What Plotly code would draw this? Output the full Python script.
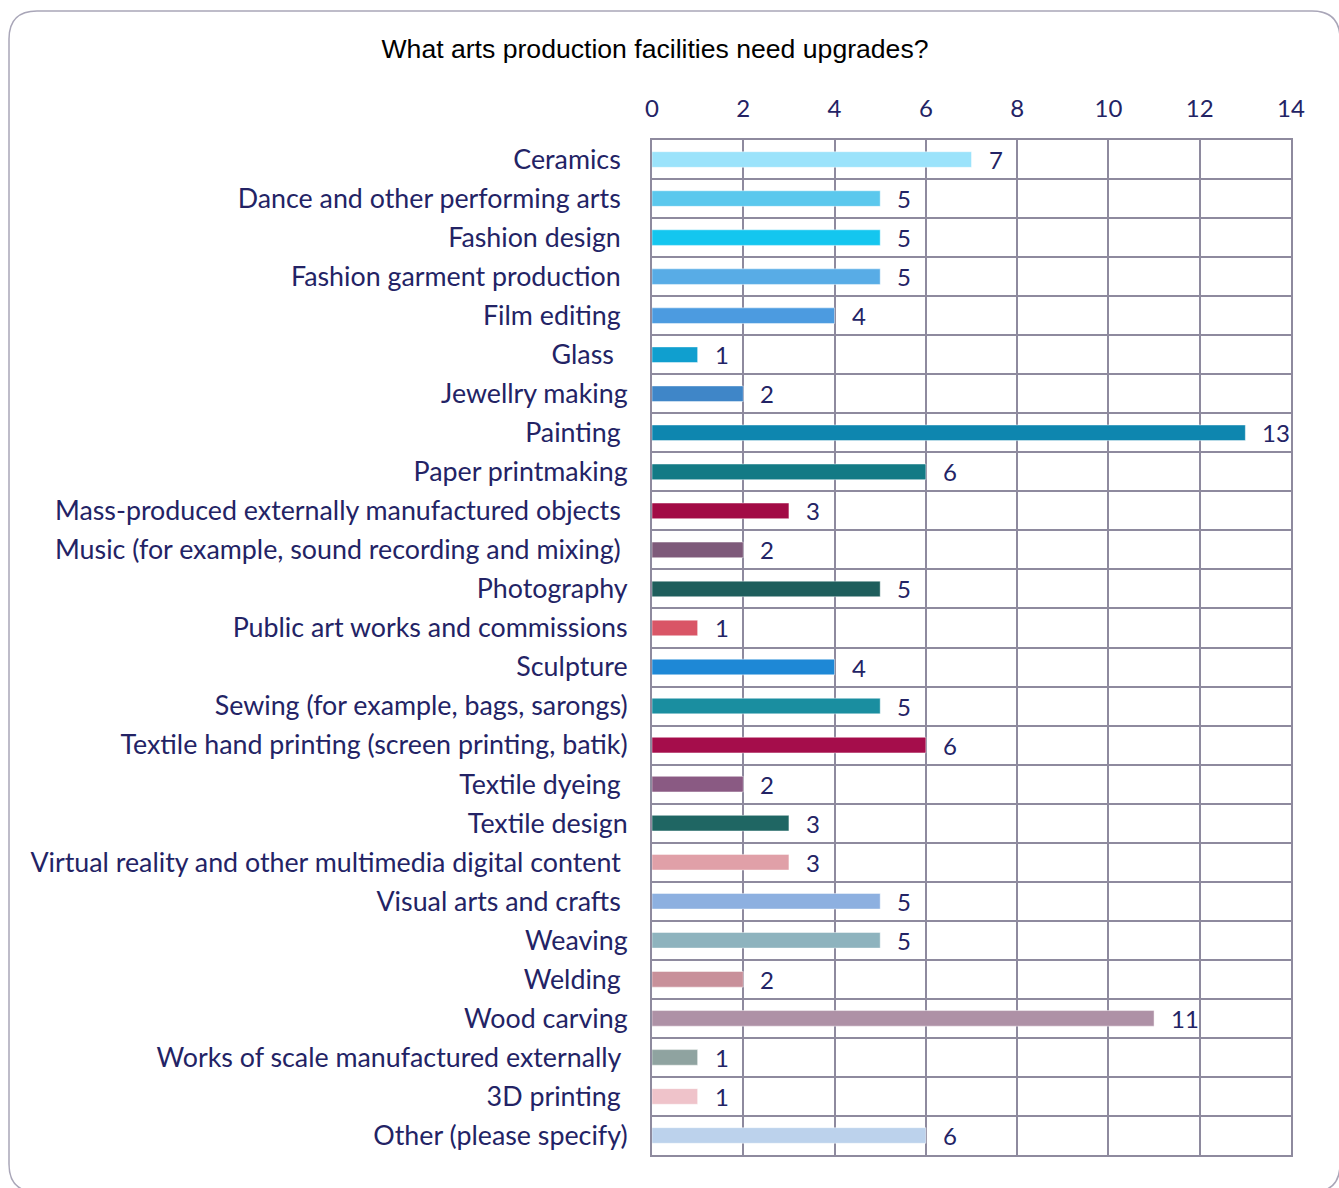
import plotly.graph_objects as go

# Survey responses: facilities needing upgrades
categories = [
    "Ceramics\u00a0", "Dance and other performing arts\u00a0", "Fashion design\u00a0",
    "Fashion garment production\u00a0", "Film editing\u00a0", "Glass\u00a0\u00a0",
    "Jewellry making", "Painting\u00a0", "Paper printmaking",
    "Mass-produced externally manufactured objects\u00a0",
    "Music (for example, sound recording and mixing)\u00a0", "Photography",
    "Public art works and commissions", "Sculpture", "Sewing (for example, bags, sarongs)",
    "Textile hand printing (screen printing, batik)", "Textile dyeing\u00a0", "Textile design",
    "Virtual reality and other multimedia digital content\u00a0", "Visual arts and crafts\u00a0",
    "Weaving", "Welding\u00a0", "Wood carving", "Works of scale manufactured externally\u00a0",
    "3D printing\u00a0", "Other (please specify)",
]
counts = [7, 5, 5, 5, 4, 1, 2, 13, 6, 3, 2, 5, 1, 4, 5, 6, 2, 3, 3, 5, 5, 2, 11, 1, 1, 6]
bar_colors = [
    "#9BE3FB", "#5BC8ED", "#14C6EF", "#58ACE6", "#4C9BE0", "#109FCF", "#3F86C8",
    "#0E86AF", "#137A85", "#A20B45", "#7E5A7A", "#1E5E5C", "#D95566", "#1E88D6",
    "#1A8EA0", "#A50D4B", "#8A5A83", "#1F6663", "#E0A0A8", "#8DB0E0", "#8EB3BE",
    "#C8909A", "#AE91A6", "#8FA3A0", "#EFC3CA", "#BCD2EC",
]
x_ticks = [0, 2, 4, 6, 8, 10, 12, 14]

W, H = 1339, 1188
L, R, T, B = 652, 48, 140, 33
TEXT = "#232365"
GRID = "#8E8A9E"

fig = go.Figure(go.Bar(
    x=counts, y=categories, orientation="h",
    marker=dict(color=bar_colors, line=dict(color="rgba(255,255,255,0.45)", width=1)),
    width=0.4, hoverinfo="x+y",
))

# value labels beside each bar
for c, v in zip(categories, counts):
    fig.add_annotation(x=v, y=c, text=str(v), showarrow=False, xanchor="left",
                       xshift=15, font=dict(family="Lato", size=24, color=TEXT))

# rounded frame around the whole chart (pixel -> paper conversion)
pw, ph = W - L - R, H - T - B
def px(x):
    return (x - L) / pw
def py(y):
    return 1 - (y - T) / ph

x0, y0, x1, y1, r = 9, 11, 1340, 1192, 28
path = (
    f"M {px(x0 + r)},{py(y0)} L {px(x1 - r)},{py(y0)} "
    f"Q {px(x1)},{py(y0)} {px(x1)},{py(y0 + r)} L {px(x1)},{py(y1 - r)} "
    f"Q {px(x1)},{py(y1)} {px(x1 - r)},{py(y1)} L {px(x0 + r)},{py(y1)} "
    f"Q {px(x0)},{py(y1)} {px(x0)},{py(y1 - r)} L {px(x0)},{py(y0 + r)} "
    f"Q {px(x0)},{py(y0)} {px(x0 + r)},{py(y0)} Z"
)
fig.add_shape(type="path", xref="paper", yref="paper", path=path,
              line=dict(color="#A9A6B8", width=1.5), layer="below")

fig.update_layout(
    width=W, height=H,
    margin=dict(l=L, r=R, t=T, b=B),
    paper_bgcolor="white", plot_bgcolor="white",
    showlegend=False,
    title=dict(text="What arts production facilities need upgrades?",
               x=(655 / W), xanchor="center", y=1 - 49 / H, yanchor="middle",
               font=dict(family="Liberation Sans, Arial", size=26.6, color="black")),
    xaxis=dict(
        side="top", range=[0, 14], tickvals=x_ticks, ticktext=[str(t) for t in x_ticks],
        showgrid=True, gridcolor=GRID, gridwidth=2,
        showline=True, linecolor=GRID, linewidth=2, mirror=True,
        zeroline=False, ticks="", ticklabelstandoff=11,
        tickfont=dict(family="Lato", size=24, color=TEXT),
    ),
    yaxis=dict(
        type="category", autorange="reversed", tickson="boundaries",
        showgrid=True, gridcolor=GRID, gridwidth=2,
        showline=True, linecolor=GRID, linewidth=2, mirror=True,
        ticks="", ticklabelstandoff=17,
        tickfont=dict(family="Lato", size=26.8, color=TEXT),
    ),
)

fig.write_html("out.html")
